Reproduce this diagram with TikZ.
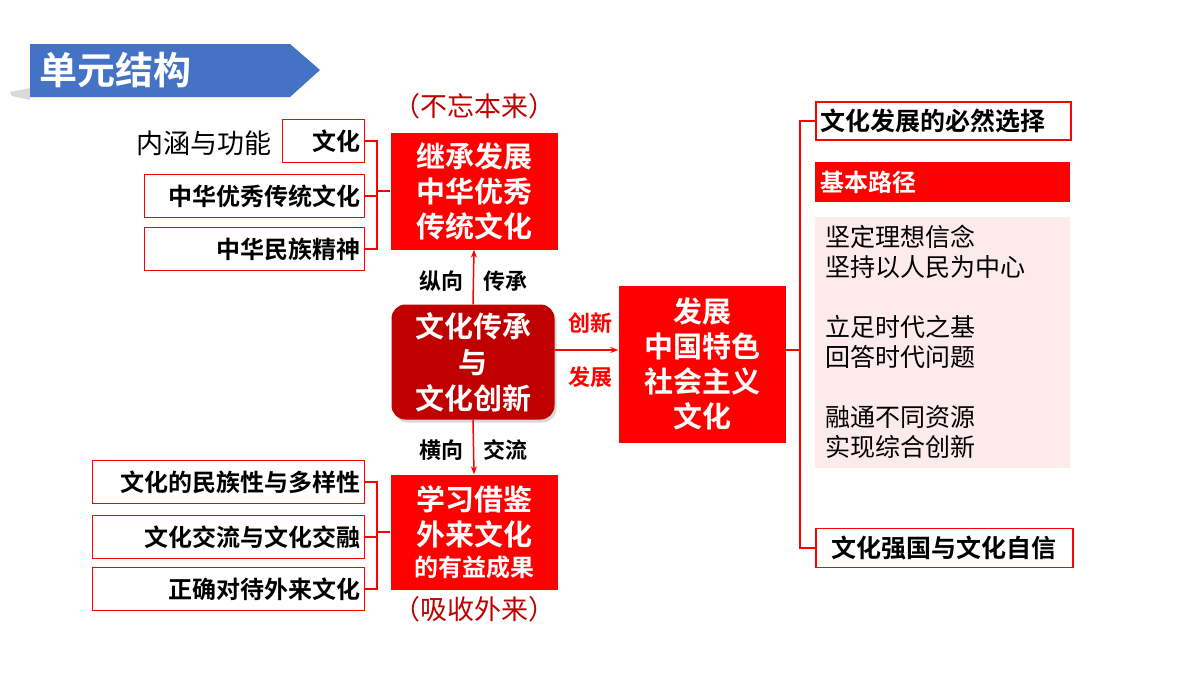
\documentclass[tikz,border=0pt]{standalone}
\usepackage{fontspec}
\usetikzlibrary{shadows,arrows.meta}
\newfontfamily\cjk{Noto Sans CJK SC}
\newfontfamily\cjkb{Noto Sans CJK SC Bold}
\definecolor{myred}{HTML}{FF0000}
\definecolor{dred}{HTML}{C00000}
\definecolor{bblue}{HTML}{4472C4}
\definecolor{pinkbg}{HTML}{FDEAEA}
\begin{document}
\begin{tikzpicture}[x=1pt,y=-1pt,
 wbox/.style={draw=myred,line width=1.5pt,fill=white,inner sep=0pt,font=\cjkb\fontsize{24}{26}\selectfont},
 rbox/.style={fill=myred,text=white,inner sep=0pt,align=center,font=\cjkb\fontsize{29}{35}\selectfont},
 lbl/.style={font=\cjkb\fontsize{22}{24}\selectfont},
 ln/.style={myred,line width=1.5pt},
 arr/.style={myred,line width=1.5pt,-{Stealth[length=8pt]}}]
\useasboundingbox (0,0) rectangle (1200,675);
\fill[white] (0,0) rectangle (1200,675);
% title banner
\fill[gray!30] (10,92) -- (30,88) -- (30,100) -- (12,96) -- cycle;
\fill[bblue] (30,44) -- (290,44) -- (320,70) -- (290,97) -- (30,97) -- cycle;
\node[text=white,anchor=west,font=\cjkb\fontsize{38}{40}\selectfont] (title) at (36,70) {单元结构};
% top-left
\node[rbox,minimum width=167,minimum height=117] (top) at (474,191) {继承发展\\中华优秀\\传统文化};
\node[font=\cjk\fontsize{27}{30}\selectfont,text=dred] (t1) at (474,106) {（不忘本来）};
\node[wbox,minimum width=82,minimum height=43,anchor=east,text width=74,align=right] (a1) at (365,141) {文化};
\node[font=\cjk\fontsize{27}{30}\selectfont,anchor=east] (a0) at (275,143) {内涵与功能};
\node[wbox,minimum width=220,minimum height=43,anchor=east,text width=212,align=right] (a2) at (365,196) {中华优秀传统文化};
\node[wbox,minimum width=220,minimum height=43,anchor=east,text width=212,align=right] (a3) at (365,249) {中华民族精神};
\coordinate (bx1) at (377,191);
\draw[ln] (a1.east) -- (a1.east -| bx1) -- (a3.east -| bx1) -- (a3.east);
\draw[ln] (a2.east) -- (a2.east -| bx1);
\draw[ln] (bx1) -- (top.west);
% center
\node[fill=dred,rounded corners=14pt,text=white,inner sep=0pt,minimum width=163,minimum height=115,align=center,font=\cjkb\fontsize{29}{36}\selectfont,drop shadow={opacity=0.3,shadow xshift=2pt,shadow yshift=-3pt}] (c) at (473,362) {文化传承\\与\\文化创新};
\draw[arr] (c.north) -- (top.south);
\node[lbl,anchor=east] at (467,281) {纵向};
\node[lbl,anchor=west] at (480,281) {传承};
% bottom
\node[rbox,minimum width=167,minimum height=115] (bot) at (474,532) {学习借鉴\\外来文化\\[-4pt]{\fontsize{24}{28}\selectfont 的有益成果}};
\draw[arr] (c.south) -- (bot.north);
\node[lbl,anchor=east] at (467,450) {横向};
\node[lbl,anchor=west] at (480,450) {交流};
\node[font=\cjk\fontsize{27}{30}\selectfont,text=dred] (t2) at (474,609) {（吸收外来）};
\node[wbox,minimum width=272,minimum height=43,anchor=east,text width=264,align=right] (b1) at (365,482) {文化的民族性与多样性};
\node[wbox,minimum width=272,minimum height=43,anchor=east,text width=264,align=right] (b2) at (365,537) {文化交流与文化交融};
\node[wbox,minimum width=272,minimum height=43,anchor=east,text width=264,align=right] (b3) at (365,589) {正确对待外来文化};
\coordinate (bx2) at (377,532);
\draw[ln] (b1.east) -- (b1.east -| bx2) -- (b3.east -| bx2) -- (b3.east);
\draw[ln] (b2.east) -- (b2.east -| bx2);
\draw[ln] (bot.west |- bx2) -- (bx2);
% right box
\node[rbox,minimum width=167,minimum height=157,font=\cjkb\fontsize{29}{35}\selectfont] (r) at (702,364) {发展\\中国特色\\社会主义\\文化};
\draw[arr] (c.east |- 0,350) -- (r.west |- 0,350);
\node[lbl,text=myred] at (590,323) {创新};
\node[lbl,text=myred] at (590,377) {发展};
% right column
\node[wbox,minimum width=255,minimum height=38,anchor=west,text width=245,align=left,font=\cjkb\fontsize{25}{28}\selectfont] (d1) at (815,121) {文化发展的必然选择};
\node[fill=myred,text=white,minimum width=255,minimum height=40,anchor=west,inner sep=0pt,text width=245,align=left,font=\cjkb\fontsize{24}{26}\selectfont] (d2) at (815,182) {基本路径};
\node[fill=pinkbg,minimum width=255,minimum height=251,anchor=north west,inner sep=0pt] (d3) at (815,217) {};
\node[anchor=north west,align=left,font=\cjk\fontsize{25}{30}\selectfont] (d3t) at (822,222) {坚定理想信念\\坚持以人民为中心\\[30pt]立足时代之基\\回答时代问题\\[30pt]融通不同资源\\实现综合创新};
\node[wbox,minimum width=257,minimum height=39,anchor=west,text width=245,align=center,font=\cjkb\fontsize{25}{28}\selectfont] (d4) at (815,548) {文化强国与文化自信};
\coordinate (bx3) at (800,350);
\draw[ln] (r.east |- bx3) -- (bx3);
\draw[ln] (d1.west) -- (d1.west -| bx3) -- (d4.west -| bx3) -- (d4.west);
\end{tikzpicture}
\end{document}
